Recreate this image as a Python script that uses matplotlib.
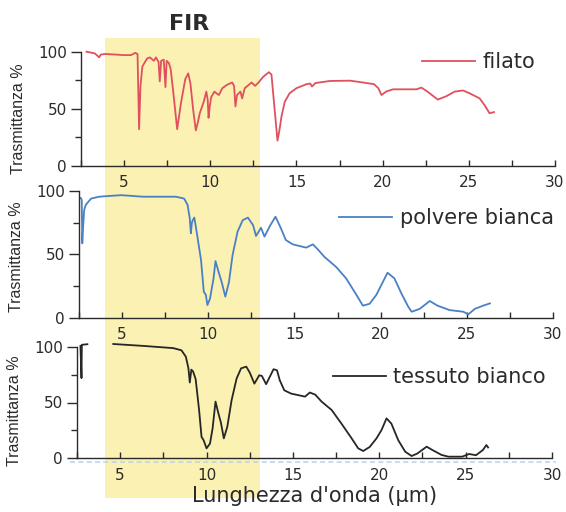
import matplotlib
matplotlib.use('Agg')
import matplotlib.pyplot as plt
import matplotlib.transforms as mtransforms
from matplotlib.patches import Rectangle
from matplotlib.lines import Line2D
from matplotlib.ticker import MultipleLocator

plt.rcParams['font.family'] = ['DejaVu Sans']

# Data (wavelength in um, transmittance in %)
wl_filato = [2.82, 3.3, 3.45, 3.55, 3.65, 3.9, 4.5, 5.0, 5.4, 5.65, 5.78, 5.87, 5.95, 6.06,
             6.33, 6.5, 6.73, 6.85, 7.0, 7.07, 7.15, 7.3, 7.4, 7.47, 7.6, 7.7, 7.85, 8.08,
             8.3, 8.55, 8.72, 8.85, 9.0, 9.16, 9.28, 9.39, 9.62, 9.77, 9.85, 9.9, 9.97,
             10.05, 10.24, 10.4, 10.5, 10.7, 10.98, 11.27, 11.38, 11.46, 11.55, 11.75,
             11.85, 12.0, 12.4, 12.6, 12.8, 13.07, 13.4, 13.55, 13.7, 13.9, 14.0, 14.13,
             14.32, 14.6, 15.0, 15.58, 15.8, 15.9, 16.1, 16.93, 18.1, 18.86, 19.5, 19.75,
             19.93, 20.2, 20.6, 21.96, 22.25, 22.6, 23.2, 23.7, 24.18, 24.66, 25.05,
             25.63, 25.92, 26.2, 26.46]
tr_filato = [100, 98.5, 96.5, 95, 97.5, 98, 97.5, 97, 97, 99, 98, 32, 70, 87,
             94, 95, 92, 95, 91, 74, 92, 93, 69, 92, 90, 85, 65, 32,
             55, 76, 81, 72, 50, 31, 38, 46, 56, 65, 58, 42, 52,
             60, 65, 63, 62, 68, 71, 73, 70, 52, 62, 65,
             59, 68, 73, 70, 73, 78, 82, 80, 55, 22, 30, 43,
             56, 63.5, 68, 71.5, 72, 69.5, 72.5, 74.3, 74.6, 73, 71.5, 68,
             62, 65, 67, 67, 68.5, 65, 58, 61, 65, 66, 63.5,
             59, 53, 46, 47]

wl_polvere = [2.6, 2.66, 2.69, 2.73, 2.8, 2.89, 3.2, 3.66, 4.92, 5.2, 6.2, 8.12, 8.6, 8.8,
              8.93, 8.99, 9.05, 9.1, 9.19, 9.3, 9.58, 9.74, 9.86, 9.95, 10.1, 10.3, 10.42,
              10.58, 10.78, 10.99, 11.2, 11.41, 11.7, 12.0, 12.3, 12.6, 12.77, 13.06, 13.26,
              13.6, 13.9, 14.2, 14.5, 14.9, 15.68, 16.07, 16.35, 16.74, 17.42, 18.0, 18.6,
              18.97, 19.36, 19.75, 20.04, 20.4, 20.8, 21.2, 21.6, 21.8, 22.27, 22.85, 23.3,
              24.0, 24.8, 25.08, 25.47, 25.95, 26.34]
tr_polvere = [94.5, 93, 58.7, 70, 85, 89, 94, 95.5, 96.7, 96.5, 95.5, 95.5, 94, 89,
              78, 66.6, 75, 77, 79, 70, 45.5, 20.5, 18, 10, 15, 30.5, 44.7,
              37, 28, 16.6, 28, 49.5, 67.9, 77, 79, 73, 64.5, 71, 64,
              73, 79.7, 71, 61.3, 57.9, 55.3, 57.9, 54, 48, 40, 31, 17.9,
              9.5, 11, 18, 25.8, 35.5, 31, 19.3, 8.7, 4.7, 7, 13.2, 9.5,
              6, 4.7, 2.6, 7, 9.5, 11.3]

wl_tessuto = [2.7, 2.76, 2.78, 3.1, float('nan'), 4.6, 6.33, 8.07, 8.55, 8.8, 8.95, 9.03,
              9.12, 9.22, 9.37, 9.57, 9.71, 9.83, 10.0, 10.2, 10.35, 10.52, 10.69, 10.83,
              11.0, 11.2, 11.45, 11.74, 12.0, 12.3, 12.5, 12.77, 13.05, 13.2, 13.45, 13.88,
              14.08, 14.24, 14.5, 14.9, 15.7, 15.98, 16.3, 16.66, 17.24, 17.8, 18.4, 18.78,
              19.07, 19.45, 19.84, 20.13, 20.42, 20.7, 21.1, 21.5, 21.87, 22.2, 22.74, 23.1,
              23.6, 24.0, 24.8, 25.2, 25.6, 26.0, 26.2, 26.3]
tr_tessuto = [101, 72, 102, 102.5, float('nan'), 102.7, 101, 99, 97, 91.3, 81, 68,
              79.6, 78, 71, 43, 19, 16, 8.7, 13, 26.7, 50.8, 40, 32,
              17.7, 28, 52, 71.6, 80.8, 82.3, 77, 67, 74.5, 74, 66.5, 80,
              79, 70, 61, 58, 55.3, 59, 57, 50.8, 43.3, 31.2, 17.7, 8.7,
              6.3, 10, 17.7, 25.2, 35.7, 31, 16, 5.7, 1.8, 4, 10.2, 7,
              2.8, 1.2, 1.2, 3.6, 2.5, 7.2, 11.7, 9.5]

labels = ['filato', 'polvere bianca', 'tessuto bianco']
colors = ['#e0505e', '#4a80c6', '#262626']
x_ticks = [5, 10, 15, 20, 25, 30]
y_ticks = [0, 50, 100]
fir_band = (4.0, 13.0)

W, H = 566, 512
fig = plt.figure(figsize=(W / 100, H / 100), dpi=100)

# axes boxes in pixels: left, x-axis y, right, y=100 position
boxes = [(81, 165.7, 555, 51.7), (79, 317.7, 553, 191), (77, 458, 552, 347)]
legend_pos = [(0.719, 0.91), (0.549, 0.787), (0.539, 0.73)]
ylabel_pos = [(-0.115, 0.41), (-0.115, 0.48), (-0.115, 0.43)]
series = [(wl_filato, tr_filato), (wl_polvere, tr_polvere), (wl_tessuto, tr_tessuto)]

ink = '#2b2b2b'
axes = []
for i, (l, b, r, t) in enumerate(boxes):
    ax = fig.add_axes([l / W, 1 - b / H, (r - l) / W, (b - t) / H])
    ax.set_facecolor('none')
    wl, tr = series[i]
    ax.plot(wl, tr, color=colors[i], lw=1.3, label=labels[i], clip_on=False)
    ax.set_xlim(2.5, 30)
    ax.set_ylim(0, 100)
    for s in ['top', 'right']:
        ax.spines[s].set_visible(False)
    for s in ['left', 'bottom']:
        ax.spines[s].set_color(ink)
        ax.spines[s].set_linewidth(1.0)
    ax.set_xticks(x_ticks)
    ax.xaxis.set_minor_locator(MultipleLocator(2.5))
    ax.set_yticks(y_ticks)
    ax.yaxis.set_minor_locator(MultipleLocator(25))
    ax.tick_params(axis='x', which='both', direction='in', length=4, width=1,
                   color=ink, pad=7, labelsize=11, labelcolor=ink)
    ax.tick_params(axis='y', which='major', direction='out', length=7, width=1,
                   color=ink, pad=3, labelsize=11, labelcolor=ink)
    ax.tick_params(axis='y', which='minor', direction='out', length=4, width=1, color=ink)
    ax.set_ylabel('Trasmittanza %', fontfamily='Liberation Sans', fontsize=11.5, color=ink)
    ax.yaxis.set_label_coords(*ylabel_pos[i])
    ax.legend(loc='center left', bbox_to_anchor=legend_pos[i], frameon=False,
              handlelength=2.55, handletextpad=0.35, borderpad=0, borderaxespad=0,
              prop={'size': 15}, labelcolor=ink)
    axes.append(ax)

# FIR band behind all three panels
blend = mtransforms.blended_transform_factory(axes[1].transData, fig.transFigure)
band = Rectangle((fir_band[0], 1 - 498 / H), fir_band[1] - fir_band[0], (498 - 38) / H,
                 transform=blend, facecolor='#faf1b2', edgecolor='none', zorder=-1)
fig.add_artist(band)

# faint scan line under the last panel
fig.add_artist(Line2D([70 / W, 556 / W], [1 - 461.5 / H] * 2, transform=fig.transFigure,
                      color='#bcd5ee', lw=1.2, ls=(0, (3, 2)), zorder=-0.5))

fig.text(189 / W, 1 - 24 / H, 'FIR', ha='center', va='center', fontsize=16,
         fontweight='bold', color=ink)
fig.text(315 / W, 1 - 496 / H, "Lunghezza d'onda (\u00b5m)", ha='center', va='center',
         fontsize=15, color=ink)

fig.savefig('out.png', dpi=100)
